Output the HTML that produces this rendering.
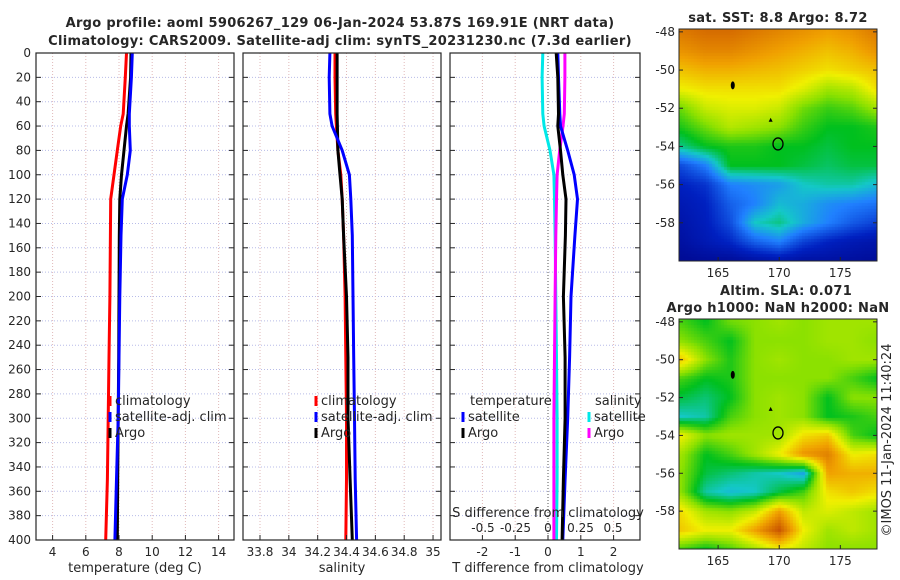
<!DOCTYPE html>
<html><head><meta charset="utf-8"><style>
html,body{margin:0;padding:0;background:#fff;width:900px;height:580px;overflow:hidden}
#wrap{position:relative;width:900px;height:580px}
canvas{position:absolute}
svg{position:absolute;left:0;top:0}
text{font-family:"DejaVu Sans","Liberation Sans",sans-serif;fill:#262626}
</style></head><body>
<div id="wrap">
<canvas id="map1" width="198" height="232" style="left:679px;top:29px"></canvas>
<canvas id="map2" width="198" height="230" style="left:679px;top:319px"></canvas>
<svg id="svg" width="900" height="580" xmlns="http://www.w3.org/2000/svg"></svg>
</div>
<script>
// ---- data ----
const depths = [0,20,50,60,80,100,120,150,200,250,300,350,400];
const tClim  = [8.45,8.38,8.25,8.1,7.9,7.7,7.5,7.48,7.45,7.4,7.35,7.3,7.2];
const tSat   = [8.8,8.75,8.62,8.62,8.68,8.5,8.2,8.12,8.05,8.0,7.95,7.85,7.75];
const tArgo  = [8.72,8.7,8.55,8.45,8.3,8.15,8.05,8.02,8.0,7.98,7.95,7.92,7.9];
const sClim  = [34.32,34.32,34.325,34.33,34.34,34.36,34.37,34.38,34.39,34.395,34.40,34.40,34.395];
const sSat   = [34.285,34.28,34.285,34.30,34.37,34.42,34.43,34.44,34.445,34.45,34.455,34.46,34.47];
const sArgo  = [34.335,34.335,34.335,34.337,34.34,34.355,34.37,34.38,34.40,34.41,34.41,34.425,34.44];
const tDiffSat  = [0.3,0.32,0.36,0.38,0.6,0.8,0.9,0.82,0.7,0.66,0.6,0.52,0.45];
const tDiffArgo = [0.25,0.3,0.32,0.3,0.38,0.45,0.55,0.53,0.47,0.52,0.52,0.47,0.43];
const sDiffSat  = [-0.04,-0.045,-0.04,-0.03,0.015,0.045,0.05,0.055,0.06,0.065,0.07,0.07,0.065];
const sDiffArgo = [0.13,0.13,0.125,0.115,0.09,0.07,0.065,0.06,0.055,0.05,0.045,0.045,0.045];
const depthTicks = [0,20,40,60,80,100,120,140,160,180,200,220,240,260,280,300,320,340,360,380,400];
const tTicks = [4,6,8,10,12,14];
const sTicks = [33.8,34,34.2,34.4,34.6,34.8,35];
const dTTicks = [-2,-1,0,1,2];
const dSTicks = [-0.5,-0.25,0,0.25,0.5];
const mapLons = [162,164,166,168,170,172,174,176,178];
const mapLats = [-48,-49,-50,-51,-52,-53,-54,-55,-56,-57,-58,-59,-60];
const sstGrid = [
[.86,.88,.88,.86,.84,.82,.8,.82,.86],
[.82,.84,.84,.82,.8,.78,.76,.78,.82],
[.76,.78,.78,.77,.76,.74,.72,.74,.76],
[.7,.72,.72,.72,.72,.68,.62,.64,.72],
[.58,.66,.68,.68,.66,.58,.54,.56,.62],
[.52,.58,.64,.62,.6,.54,.5,.5,.52],
[.44,.5,.52,.52,.5,.5,.48,.5,.5],
[.22,.3,.5,.5,.5,.48,.46,.48,.48],
[.15,.18,.3,.32,.34,.4,.42,.42,.38],
[.12,.15,.25,.3,.38,.36,.32,.3,.28],
[.1,.14,.22,.4,.44,.36,.3,.24,.2],
[.08,.12,.16,.25,.3,.2,.15,.12,.1],
[.05,.06,.06,.08,.1,.08,.08,.07,.06]];
const slaGrid = [
[.55,.5,.58,.6,.62,.6,.62,.62,.62],
[.6,.55,.5,.6,.6,.6,.62,.62,.6],
[.75,.6,.52,.6,.62,.6,.6,.62,.62],
[.55,.5,.52,.6,.6,.6,.6,.55,.5],
[.48,.45,.5,.6,.62,.6,.5,.6,.6],
[.4,.42,.55,.6,.62,.6,.5,.52,.55],
[.7,.6,.62,.62,.62,.72,.75,.55,.5],
[.62,.5,.55,.62,.7,.82,.85,.7,.72],
[.6,.48,.45,.42,.4,.35,.8,.78,.78],
[.6,.42,.38,.4,.48,.55,.72,.75,.72],
[.72,.62,.6,.65,.8,.65,.68,.65,.62],
[.75,.7,.7,.8,.92,.7,.62,.65,.62],
[.55,.5,.55,.62,.7,.65,.6,.6,.6]];
const argoPos = [169.9,-53.87];
const lonTicks = [165,170,175];
const latTicks = [-48,-50,-52,-54,-56,-58];

// ---- helpers ----
const NS="http://www.w3.org/2000/svg", svg=document.getElementById('svg');
function mk(tag,attrs,parent){const e=document.createElementNS(NS,tag);for(const k in attrs)e.setAttribute(k,attrs[k]);(parent||svg).appendChild(e);return e;}
function txt(x,y,s,opts){const e=mk('text',Object.assign({x:x,y:y,'font-size':12},opts||{}));e.textContent=s;return e;}
const Y0=53, Y1=540;
const yD = d => Y0 + d/400*(Y1-Y0);
const xT = t => 36 + (t-3)*16.6;
const xS = s => 260 + (s-33.8)*144.2;
const xDT = d => 548 + d*32.8;
const xDS = d => 548 + d*130;
const panels=[[36,234],[243,441],[450,640]];

panels.forEach((p,i)=>{
  const g=mk('g',{});
  
  
  depthTicks.forEach(d=>{ if(d>0&&d<400) mk('line',{x1:p[0],x2:p[1],y1:yD(d),y2:yD(d),stroke:'#b8bce8','stroke-dasharray':'1,2','stroke-width':1},g);});
  const xt = i==0?tTicks.map(xT):i==1?sTicks.map(xS):dTTicks.map(xDT);
  xt.forEach(x=>mk('line',{x1:x,x2:x,y1:Y0,y2:Y1,stroke:'#e0b8b8','stroke-dasharray':'1,2','stroke-width':1},g));
});
const zl=mk('line',{x1:548,x2:548,y1:Y0,y2:Y1,stroke:'#555','stroke-dasharray':'1,2','stroke-width':1});



function series(xf,xs,color,name){
  const pts=depths.map((d,i)=>xf(xs[i]).toFixed(1)+','+yD(d).toFixed(1)).join(' ');
  const l=mk('polyline',{points:pts,fill:'none',stroke:color,'stroke-width':3,'stroke-linejoin':'round'});
  
  
}
series(xT,tClim,'#ff0000','temp-climatology-line');
series(xT,tArgo,'#000000','temp-argo-line');
series(xT,tSat,'#0000ff','temp-satellite-line');
series(xS,sClim,'#ff0000','sal-climatology-line');
series(xS,sArgo,'#000000','sal-argo-line');
series(xS,sSat,'#0000ff','sal-satellite-line');
series(xDS,sDiffSat,'#00e8e8','sdiff-satellite-line');
series(xDS,sDiffArgo,'#ff00ff','sdiff-argo-line');
series(xDT,tDiffSat,'#0000ff','tdiff-satellite-line');
series(xDT,tDiffArgo,'#000000','tdiff-argo-line');

panels.forEach((p,i)=>{
  const r=mk('rect',{x:p[0],y:Y0,width:p[1]-p[0],height:Y1-Y0,fill:'none',stroke:'#262626','stroke-width':1.2});
  
  
  depthTicks.forEach(d=>{mk('line',{x1:p[0],x2:p[0]+5,y1:yD(d),y2:yD(d),stroke:'#262626'});mk('line',{x1:p[1]-5,x2:p[1],y1:yD(d),y2:yD(d),stroke:'#262626'});});
});
depthTicks.forEach(d=>{const t=txt(31,yD(d)+4,String(d),{'text-anchor':'end'});});
function xticks(vals,f,y){vals.forEach(v=>{const x=f(v);mk('line',{x1:x,x2:x,y1:Y1-5,y2:Y1,stroke:'#262626'});const t=txt(x,y,String(v),{'text-anchor':'middle'});});}
xticks(tTicks,xT,556);
xticks(sTicks,xS,556);
xticks(dTTicks,xDT,556);
dSTicks.forEach(v=>{const t=txt(xDS(v),532,String(v),{'text-anchor':'middle'});});
let a;
a=txt(135,572,'temperature (deg C)',{'text-anchor':'middle','font-size':13});
a=txt(342,572,'salinity',{'text-anchor':'middle','font-size':13});
a=txt(548,572,'T difference from climatology',{'text-anchor':'middle','font-size':13});
a=txt(548,517,'S difference from climatology',{'text-anchor':'middle','font-size':13});

a=txt(340,27,'Argo profile: aoml 5906267_129 06-Jan-2024 53.87S 169.91E (NRT data)',{'text-anchor':'middle','font-size':13,'font-weight':'bold','letter-spacing':'0.3'});
a=txt(340,45,'Climatology: CARS2009. Satellite-adj clim: synTS_20231230.nc (7.3d earlier)',{'text-anchor':'middle','font-size':13,'font-weight':'bold','letter-spacing':'0.3'});

function leg(x,y,color,label,name){mk('line',{x1:x,x2:x,y1:y-9,y2:y+1,stroke:color,'stroke-width':3});const t=txt(x+5,y,label,{'font-size':13});}
leg(110,405,'#ff0000','climatology','legend-climatology');
leg(110,421,'#0000ff','satellite-adj. clim','legend-satellite-adj');
leg(110,437,'#000000','Argo','legend-argo');
leg(316,405,'#ff0000','climatology','legend-sal-climatology');
leg(316,421,'#0000ff','satellite-adj. clim','legend-sal-satellite-adj');
leg(316,437,'#000000','Argo','legend-sal-argo');
a=txt(470,405,'temperature',{'font-size':13});
a=txt(595,405,'salinity',{'font-size':13});
leg(463,421,'#0000ff','satellite','legend-tdiff-satellite');
leg(463,437,'#000000','Argo','legend-tdiff-argo');
leg(589,421,'#00e8e8','satellite','legend-sdiff-satellite');
leg(589,437,'#ff00ff','Argo','legend-sdiff-argo');

// ---- maps ----
const stops=[[0,[0,0,127]],[.15,[0,32,192]],[.3,[32,128,255]],[.4,[20,200,200]],[.5,[0,192,30]],[.6,[140,225,0]],[.7,[240,240,0]],[.8,[240,160,0]],[.9,[208,96,0]],[1,[160,16,16]]];
function cmap(v){v=Math.max(0,Math.min(1,v));for(let i=1;i<stops.length;i++){if(v<=stops[i][0]){const a=stops[i-1],b=stops[i],f=(v-a[0])/(b[0]-a[0]);return a[1].map((c,k)=>Math.round(c+(b[1][k]-c)*f));}}return stops[stops.length-1][1];}
function bil(grid,lon,lat){let fx=(lon-mapLons[0])/2, fy=(mapLats[0]-lat);fx=Math.max(0,Math.min(mapLons.length-1.001,fx));fy=Math.max(0,Math.min(mapLats.length-1.001,fy));const i=Math.floor(fy),j=Math.floor(fx),u=fx-j,w=fy-i;return grid[i][j]*(1-u)*(1-w)+grid[i][j+1]*u*(1-w)+grid[i+1][j]*(1-u)*w+grid[i+1][j+1]*u*w;}
const LON0=161.8, LON1=178.0;
function drawMap(id,grid,top,h,latTop,latBot,nm){
  const c=document.getElementById(id),ctx=c.getContext('2d'),W=198,cs=3;
  for(let y=0;y<h;y+=cs)for(let x=0;x<W;x+=cs){const lon=LON0+(x+1.5)/W*(LON1-LON0),lat=latTop+(y+1.5)/h*(latBot-latTop);const col=cmap(bil(grid,lon,lat));ctx.fillStyle='rgb('+col.join(',')+')';ctx.fillRect(x,y,cs,cs);}
  const L=679,px=lon=>L+(lon-LON0)/(LON1-LON0)*W,py=lat=>top+(lat-latTop)/(latBot-latTop)*h;
  const fr=mk('rect',{x:L,y:top,width:W,height:h,fill:'none',stroke:'#262626'});
  
  
  latTicks.forEach(v=>{const y=py(v);mk('line',{x1:L,x2:L+4,y1:y,y2:y,stroke:'#262626'});mk('line',{x1:L+W-4,x2:L+W,y1:y,y2:y,stroke:'#262626'});const t=txt(L-4,y+4,String(v),{'text-anchor':'end'});});
  lonTicks.forEach(v=>{const x=px(v);mk('line',{x1:x,x2:x,y1:top+h-4,y2:top+h,stroke:'#262626'});const t=txt(x,top+h+16,String(v),{'text-anchor':'middle'});});
  const m=mk('ellipse',{cx:px(argoPos[0]),cy:py(argoPos[1]),rx:5,ry:6,fill:'none',stroke:'#000','stroke-width':1.3});
  
  
  mk('path',{d:'M'+(px(169.3)-2)+' '+(py(-52.6)+2)+' l2 -4 l2 4z',fill:'#000'});
  mk('ellipse',{cx:px(166.2),cy:py(-50.8),rx:2,ry:4,fill:'#000'});
}
drawMap('map1',sstGrid,29,232,-47.85,-60,'sst-map');
drawMap('map2',slaGrid,319,230,-47.85,-60,'sla-map');
a=txt(778,22,'sat. SST: 8.8 Argo: 8.72',{'text-anchor':'middle','font-size':13,'font-weight':'bold','letter-spacing':'0.3'});
a=txt(786,295,'Altim. SLA: 0.071',{'text-anchor':'middle','font-size':13,'font-weight':'bold','letter-spacing':'0.3'});
a=txt(778,312,'Argo h1000: NaN h2000: NaN',{'text-anchor':'middle','font-size':13,'font-weight':'bold','letter-spacing':'0.3'});
a=txt(0,0,'©IMOS 11-Jan-2024 11:40:24',{'text-anchor':'middle','font-size':13,transform:'translate(891,440) rotate(-90)'});
</script>
</body></html>
